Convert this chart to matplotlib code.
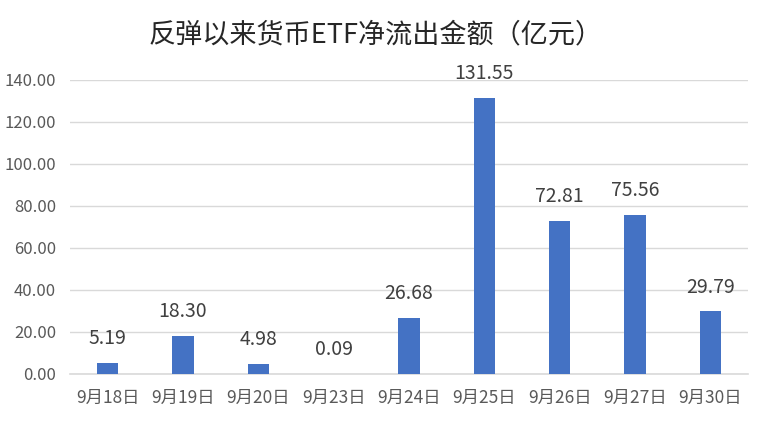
import matplotlib

matplotlib.use("Agg")
import matplotlib.pyplot as plt

plt.rcParams["font.family"] = ["Noto Sans CJK SC", "DejaVu Sans"]

dates = ["9月18日", "9月19日", "9月20日", "9月23日", "9月24日",
         "9月25日", "9月26日", "9月27日", "9月30日"]
outflow = [5.19, 18.30, 4.98, 0.09, 26.68, 131.55, 72.81, 75.56, 29.79]
y_ticks = [0, 20, 40, 60, 80, 100, 120, 140]

fig = plt.figure(figsize=(7.57, 4.29), dpi=100)
ax = fig.add_axes([70 / 757, 1 - 374 / 429, 678 / 757, 294 / 429])

x = range(len(dates))
bars = ax.bar(x, outflow, width=0.28, color="#4472C4", zorder=3)
for rect, value in zip(bars, outflow):
    ax.annotate(f"{value:.2f}", (rect.get_x() + rect.get_width() / 2, value),
                xytext=(0, 10), textcoords="offset points",
                ha="center", va="bottom", fontsize=14, color="#404040")

ax.set_xlim(-0.5, len(dates) - 0.5)
ax.set_ylim(0, 140)
ax.set_yticks(y_ticks)
ax.set_yticklabels([f"{t:.2f}" for t in y_ticks])
ax.set_xticks(list(x))
ax.set_xticklabels(dates)
ax.tick_params(axis="both", length=0, colors="#595959")
ax.tick_params(axis="y", pad=10, labelsize=12)
ax.tick_params(axis="x", pad=11, labelsize=12.5)
ax.grid(axis="y", color="#d9d9d9", linewidth=1, zorder=0)
for side in ("top", "right", "left"):
    ax.spines[side].set_visible(False)
ax.spines["bottom"].set_color("#d9d9d9")
ax.spines["bottom"].set_linewidth(1.2)

fig.text(376 / 757, 1 - 35 / 429, "反弹以来货币ETF净流出金额（亿元）",
         ha="center", va="center", fontsize=19.5, color="#262626")

fig.savefig("out.png", dpi=100)
